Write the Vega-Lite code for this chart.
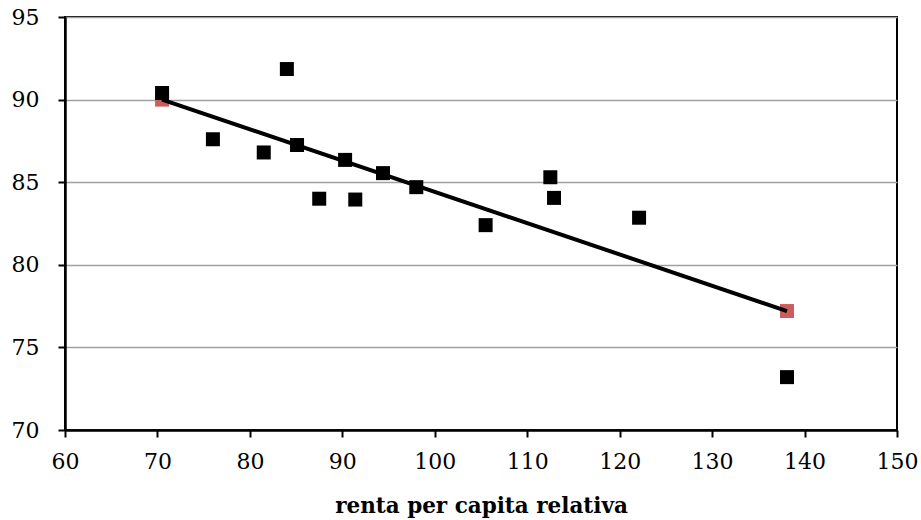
{
  "$schema": "https://vega.github.io/schema/vega-lite/v6.json",
  "width": 832,
  "height": 413,
  "autosize": {"type": "none"},
  "padding": {"left": 65, "top": 17, "right": 24, "bottom": 90},
  "background": "white",
  "config": {
    "view": {"stroke": "black", "strokeWidth": 2}
  },
  "data": {
    "values": [
      {"renta": 70.5, "indice": 90.4, "serie": "datos"},
      {"renta": 76.0, "indice": 87.6, "serie": "datos"},
      {"renta": 81.5, "indice": 86.8, "serie": "datos"},
      {"renta": 84.0, "indice": 91.85, "serie": "datos"},
      {"renta": 85.1, "indice": 87.25, "serie": "datos"},
      {"renta": 87.5, "indice": 84.0, "serie": "datos"},
      {"renta": 90.3, "indice": 86.35, "serie": "datos"},
      {"renta": 91.4, "indice": 83.95, "serie": "datos"},
      {"renta": 94.4, "indice": 85.55, "serie": "datos"},
      {"renta": 98.0, "indice": 84.7, "serie": "datos"},
      {"renta": 105.5, "indice": 82.4, "serie": "datos"},
      {"renta": 112.5, "indice": 85.3, "serie": "datos"},
      {"renta": 112.9, "indice": 84.05, "serie": "datos"},
      {"renta": 122.1, "indice": 82.85, "serie": "datos"},
      {"renta": 138.1, "indice": 73.2, "serie": "datos"},
      {"renta": 70.5, "indice": 90.0, "serie": "ajuste"},
      {"renta": 138.1, "indice": 77.2, "serie": "ajuste"}
    ]
  },
  "encoding": {
    "x": {
      "field": "renta",
      "type": "quantitative",
      "scale": {"domain": [60, 150], "nice": false, "zero": false},
      "axis": {
        "title": "renta per capita relativa",
        "titleFont": "DejaVu Serif",
        "titleFontSize": 21.5,
        "titleFontWeight": "bold",
        "titleColor": "black",
        "titlePadding": 23,
        "values": [60, 70, 80, 90, 100, 110, 120, 130, 140, 150],
        "labelFont": "DejaVu Serif",
        "labelFontSize": 22,
        "labelColor": "black",
        "labelPadding": 14,
        "labelFlush": false,
        "labelOverlap": false,
        "domainColor": "black",
        "domainWidth": 2.5,
        "tickColor": "black",
        "tickWidth": 2,
        "tickSize": 7,
        "grid": false
      }
    },
    "y": {
      "field": "indice",
      "type": "quantitative",
      "scale": {"domain": [70, 95], "nice": false, "zero": false},
      "axis": {
        "title": null,
        "values": [70, 75, 80, 85, 90, 95],
        "labelFont": "DejaVu Serif",
        "labelFontSize": 22,
        "labelColor": "black",
        "labelPadding": 19,
        "labelFlush": false,
        "domainColor": "black",
        "domainWidth": 2.5,
        "tickColor": "black",
        "tickWidth": 2,
        "tickSize": 7,
        "grid": true,
        "gridColor": "#a0a0a0",
        "gridWidth": 1.5
      }
    }
  },
  "layer": [
    {
      "transform": [{"filter": "datum.serie === 'ajuste'"}],
      "mark": {"type": "point", "shape": "square", "filled": true, "size": 196, "color": "#cd5c5c", "opacity": 1}
    },
    {
      "transform": [{"filter": "datum.serie === 'ajuste'"}],
      "mark": {"type": "line", "color": "black", "strokeWidth": 4}
    },
    {
      "transform": [{"filter": "datum.serie === 'datos'"}],
      "mark": {"type": "point", "shape": "square", "filled": true, "size": 196, "color": "black", "opacity": 1}
    }
  ]
}
